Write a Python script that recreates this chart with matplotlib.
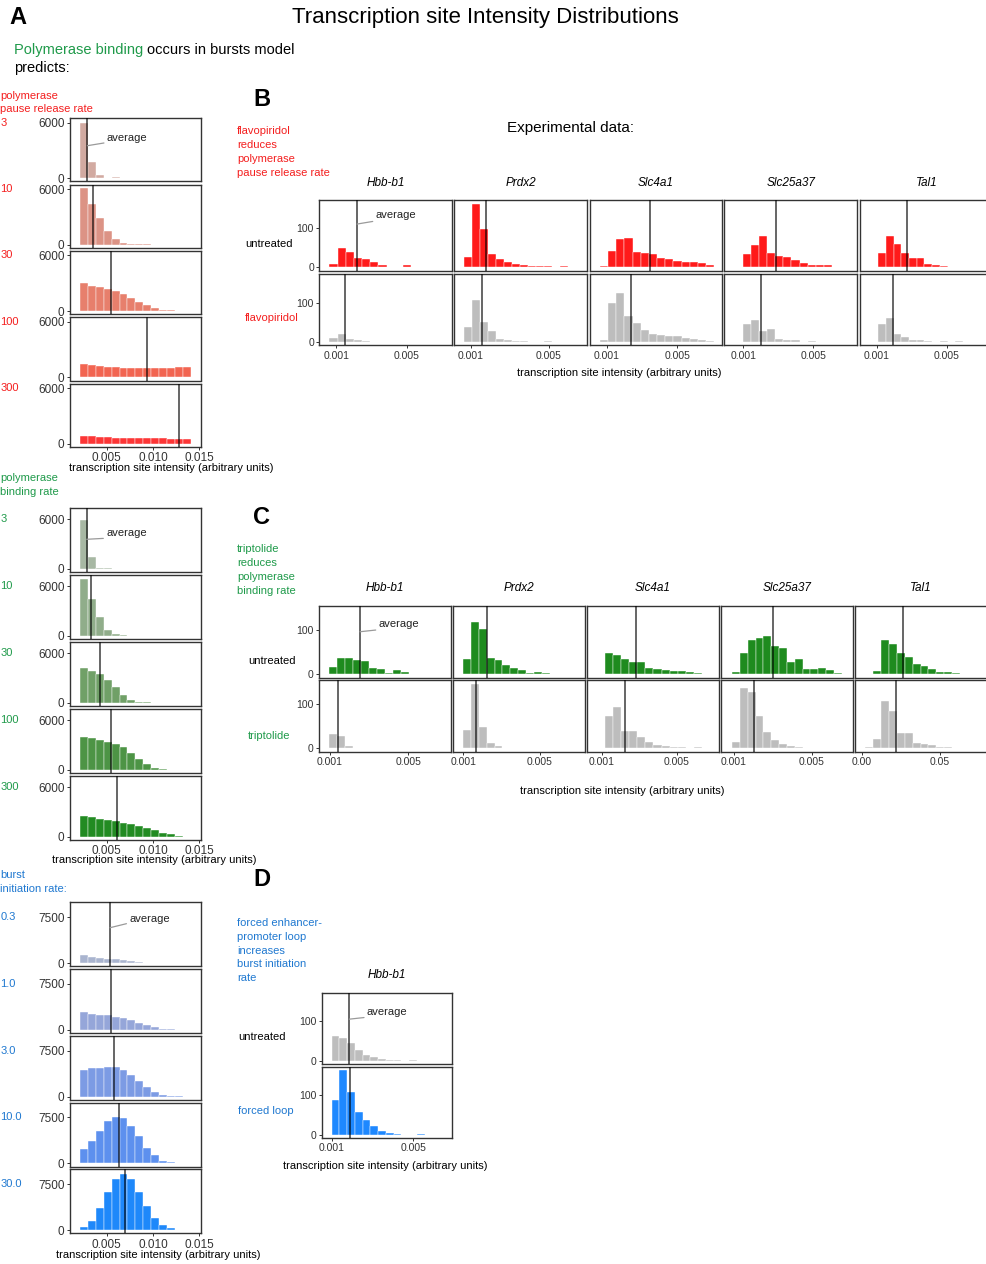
import numpy as np
import matplotlib
matplotlib.use('Agg')
from matplotlib import pyplot as plt
from matplotlib import transforms

plt.rcParams['font.family'] = ['Liberation Sans', 'DejaVu Sans']

# ---- モデル予測 (A) ----
model_bin_start = 0.00212
model_bin_width = 0.000853
model_xticks = [0.005, 0.010, 0.015]
model_xticklabels = ['0.005', '0.010', '0.015']

pause_rates = ['3', '10', '30', '100', '300']
pause_counts = [
    [5950, 1750, 300, 60, 100],
    [6070, 4390, 2860, 1430, 640, 180, 70, 70, 70],
    [3020, 2730, 2545, 2360, 2110, 1820, 1450, 1020, 650, 360, 145, 70, 40, 40],
    [1430, 1320, 1250, 1180, 1140, 1070, 1040, 1040, 1000, 1000, 1000, 1070, 1140, 1120],
    [900, 830, 790, 750, 680, 660, 640, 620, 600, 590, 580, 560, 550, 540],
]
pause_means = [0.00291, 0.00356, 0.00547, 0.00932, 0.01282]

binding_rates = ['3', '10', '30', '100', '300']
binding_counts = [
    [5920, 1410, 160, 60, 20],
    [6900, 4450, 2330, 775, 200, 80, 40],
    [4230, 3900, 3500, 2780, 1890, 1000, 360, 120, 80, 40, 40],
    [4030, 3830, 3590, 3430, 3100, 2780, 2100, 1290, 685, 280, 120, 40, 40, 40],
    [2550, 2350, 2150, 2025, 1940, 1740, 1540, 1340, 1050, 810, 525, 325, 120, 40],
]
binding_means = [0.00284, 0.00331, 0.00431, 0.00547, 0.00608]

burst_rates = ['0.3', '1.0', '3.0', '10.0', '30.0']
burst_counts = [
    [1310, 1040, 875, 765, 656, 490, 380, 220, 110, 110, 55, 55, 55, 30],
    [2920, 2650, 2480, 2380, 2160, 1890, 1570, 1190, 810, 430, 215, 110, 55, 55],
    [4270, 4600, 4600, 4760, 4760, 4320, 3560, 2570, 1590, 765, 330, 110, 55, 30],
    [2330, 3690, 5320, 6840, 7500, 7390, 6140, 4510, 2500, 1360, 435, 160, 55, 30],
    [475, 1530, 3540, 6180, 8400, 9080, 8290, 6180, 3960, 1950, 900, 370, 105, 50],
]
burst_means = [0.00536, 0.00547, 0.00576, 0.0063, 0.00698]

# ---- 実験データ (B, C, D) ----
genes = ['Hbb-b1', 'Prdx2', 'Slc4a1', 'Slc25a37', 'Tal1']

flavo_bin_start = [0.000617, 0.000674, 0.000617, 0.00097, 0.00109]
flavo_bin_width = [0.000463, 0.000407, 0.000463, 0.000463, 0.00044]
flavo_untreated = [
    [9, 50, 39, 22, 20, 14, 5, 1, 0, 4, 1, 1],
    [26, 163, 98, 33, 20, 14, 7, 4, 3, 2, 2, 1, 3],
    [2, 42, 72, 76, 39, 35, 33, 22, 20, 16, 14, 13, 10, 5],
    [33, 57, 80, 35, 29, 26, 17, 11, 4, 4, 4, 1, 1],
    [37, 80, 59, 35, 22, 22, 7, 4, 3, 1, 1, 1, 1],
]
flavo_treated = [
    [9, 20, 7, 3, 1],
    [37, 108, 50, 26, 7, 4, 2, 1, 0, 0, 2],
    [3, 100, 125, 67, 47, 30, 20, 17, 15, 13, 9, 7, 4, 1],
    [46, 56, 27, 31, 7, 4, 3, 0, 1],
    [46, 60, 20, 11, 4, 4, 2, 0, 1, 0, 1],
]
flavo_untreated_mean = [0.00218, 0.00178, 0.00343, 0.00287, 0.00271]
flavo_treated_mean = [0.00147, 0.00156, 0.00239, 0.00199, 0.00191]

trip_bin_start = [0.00096, 0.001, 0.00117, 0.00092, 0.0021]
trip_bin_width = [0.00041, 0.00041, 0.00043, 0.0004, 0.00506]
trip_untreated = [
    [15, 37, 36, 31, 29, 14, 12, 2, 9, 4, 1, 0, 1],
    [33, 117, 102, 37, 31, 21, 14, 9, 2, 4, 2, 0, 1],
    [48, 42, 35, 27, 27, 14, 12, 9, 6, 6, 4, 2],
    [4, 48, 78, 81, 86, 64, 58, 27, 35, 12, 12, 14, 8, 2],
    [0, 6, 77, 68, 48, 38, 23, 19, 12, 4, 5, 2, 1],
]
trip_treated = [
    [32, 28, 4, 0, 1],
    [41, 144, 47, 11, 4],
    [73, 92, 39, 39, 24, 13, 7, 5, 3, 2, 0, 2],
    [14, 136, 127, 72, 36, 17, 9, 5, 2],
    [2, 20, 106, 83, 34, 34, 11, 8, 7, 2, 2, 1, 1],
]
trip_untreated_mean = [0.00253, 0.00225, 0.00281, 0.00301, 0.0263]
trip_treated_mean = [0.00142, 0.00166, 0.00223, 0.00202, 0.0217]

loop_gene = 'Hbb-b1'
loop_bin_start = 0.001
loop_bin_width = 0.00038
loop_untreated = [62, 56, 43, 27, 14, 10, 3, 2, 2, 0, 2]
loop_forced = [87, 161, 107, 58, 37, 21, 8, 4, 2, 0, 0, 2]
loop_untreated_mean = 0.00186
loop_forced_mean = 0.0019

# ---- 色 ----
RED = '#f41e1e'
GREEN = '#1f9a4a'
BLUE = '#1f78d0'
pause_colors = ['#d2aaa1', '#dc9385', '#e77f6c', '#f26551', '#fc3636']
binding_colors = ['#a7b8a3', '#90ad8a', '#70a067', '#4d9445', '#228b22']
burst_colors = ['#a9b4cf', '#95a6d9', '#7c9be4', '#5d90ee', '#1e88fa']
GREY_BAR = '#bdbdbd'

W, H = 987, 1264
fig = plt.figure(figsize=(W / 100, H / 100), dpi=100)


def axpx(l, t, w, h):
    return fig.add_axes([l / W, 1 - (t + h) / H, w / W, h / H])


def txt(x, y, s, **kw):
    kw.setdefault('va', 'center')
    kw.setdefault('fontsize', 8)
    return fig.text(x / W, 1 - y / H, s, **kw)


def draw_hist(ax, start, width, counts, mean, color):
    left = start + width * np.arange(len(counts))
    ax.bar(left, counts, width=width, align='edge', color=color,
           edgecolor='white', linewidth=0.3, zorder=2)
    ax.axvline(mean, color='black', alpha=0.7, lw=1.2, zorder=3)


def frame(ax, xlim, ylim, xticks=None, xlabels=None, yticks=None, size=8):
    ax.set_xlim(xlim)
    ax.set_ylim(ylim)
    for sp in ax.spines.values():
        sp.set_color('#333333')
        sp.set_linewidth(1.0)
    ax.tick_params(length=2.5, width=0.7, color='#333333', labelsize=size,
                   labelcolor='#333333', pad=1.5)
    if xticks is None:
        ax.set_xticks([])
    else:
        ax.set_xticks(xticks)
        ax.set_xticklabels(xlabels)
    if yticks is None:
        ax.set_yticks([])
    else:
        ax.set_yticks(yticks)
        ax.set_yticklabels([str(v) for v in yticks])


def average_label(ax, mean, y0, tx, ty, rel=(0.05, 0.1)):
    ax.annotate('average', xy=(mean, y0), xycoords=ax.get_xaxis_transform(),
                xytext=(tx, ty), textcoords='axes fraction', ha='left',
                va='center', fontsize=8, color='#222222', zorder=4,
                arrowprops=dict(arrowstyle='-', color='#9a9a9a', lw=0.9,
                                shrinkA=0, shrinkB=0, relpos=rel))


# ---- A: モデル ----
model_xlim = (0.00104, 0.01515)


def model_column(top0, step, height, rates, counts, means, colors, ylim,
                 ytick, label_color, ann):
    axes = []
    for i in range(len(rates)):
        ax = axpx(70, top0 + i * step, 130.7, height)
        draw_hist(ax, model_bin_start, model_bin_width, counts[i], means[i],
                  colors[i])
        last = i == len(rates) - 1
        frame(ax, model_xlim, ylim,
              xticks=model_xticks if last else None,
              xlabels=model_xticklabels, yticks=[0, ytick], size=8.5)
        tr = transforms.blended_transform_factory(fig.transFigure, ax.transData)
        fig.text(0.5 / W, ytick, rates[i], transform=tr, color=label_color,
                 fontsize=8, va='center', ha='left')
        axes.append(ax)
    average_label(axes[0], means[0], *ann)
    return axes


model_column(118.3, 66.4, 63, pause_rates, pause_counts, pause_means,
             pause_colors, (-330, 6470), 6000, RED,
             (0.565, 0.281, 0.683, (0.04, 0.1)))
model_column(508.3, 67, 63.5, binding_rates, binding_counts, binding_means,
             binding_colors, (-349, 7329), 6000, GREEN,
             (0.512, 0.276, 0.606, (0.2, 0.05)))
model_column(902.3, 66.75, 64, burst_rates, burst_counts, burst_means,
             burst_colors, (-500, 9900), 7500, BLUE,
             (0.603, 0.453, 0.739, (0.0, 0.1)))

xlab = 'transcription site intensity (arbitrary units)'
txt(171, 468, xlab, ha='center')
txt(154, 860, xlab, ha='center')
txt(158, 1255, xlab, ha='center')

txt(0.5, 96, 'polymerase', color=RED)
txt(0.5, 109, 'pause release rate', color=RED)
txt(0.5, 478, 'polymerase', color=GREEN)
txt(0.5, 492, 'binding rate', color=GREEN)
txt(0.5, 875, 'burst', color=BLUE)
txt(0.5, 889, 'initiation rate:', color=BLUE)

# ---- タイトル ----
txt(9, 18, 'A', fontsize=17, fontweight='bold')
txt(485, 18, 'Transcription site Intensity Distributions', fontsize=16,
    ha='center')
txt(14, 50, 'Polymerase binding', fontsize=10.5, color=GREEN)
txt(147, 50, 'occurs in bursts model', fontsize=10.5)
txt(14, 68, 'predicts:', fontsize=10.5)


# ---- B / C: 実験データ ----
def experiment_grid(lefts, width, tops, height, bstart, bwidth, untreated,
                    treated, umean, tmean, treat_color, xlims, xticks_list,
                    xticklabels_list, ylim, gene_y):
    for j, gene in enumerate(genes):
        for r, (counts, means, color) in enumerate(
                [(untreated, umean, treat_color), (treated, tmean, GREY_BAR)]):
            ax = axpx(lefts[j], tops[r], width, height)
            draw_hist(ax, bstart[j], bwidth[j], counts[j], means[j], color)
            frame(ax, xlims[j], ylim,
                  xticks=xticks_list[j] if r == 1 else None,
                  xlabels=xticklabels_list[j],
                  yticks=[0, 100] if j == 0 else None, size=7.5)
            if j == 0 and r == 0:
                first = ax
        txt(lefts[j] + width / 2, gene_y, gene, ha='center', style='italic',
            fontsize=8.5)
    return first


txt(253, 100, 'B', fontsize=17, fontweight='bold')
for k, line in enumerate(['flavopiridol', 'reduces', 'polymerase',
                          'pause release rate']):
    txt(237, 131 + 14 * k, line, color=RED)
txt(571, 128, 'Experimental data:', fontsize=11, ha='center')

ax_b = experiment_grid(
    [319.5, 454.5, 589.5, 724.3, 860], 133, [199.5, 274], 71,
    flavo_bin_start, flavo_bin_width, flavo_untreated, flavo_treated,
    flavo_untreated_mean, flavo_treated_mean, '#ff1a1a',
    [(0.00005, 0.0076), (0.000165, 0.00698), (0.00002, 0.00757),
     (-0.00009, 0.00751), (0.00005, 0.00765)],
    [[0.001, 0.005]] * 5, [['0.001', '0.005']] * 5, (-9, 174), 183)
average_label(ax_b, flavo_untreated_mean[0], 0.654, 0.421, 0.78, (0.2, 0.05))
txt(245, 244, 'untreated')
txt(245, 318, 'flavopiridol', color=RED)
txt(619, 373, xlab, ha='center')

txt(253, 517, 'C', fontsize=17, fontweight='bold')
for k, line in enumerate(['triptolide', 'reduces', 'polymerase',
                          'binding rate']):
    txt(237, 549 + 14 * k, line, color=GREEN)

ax_c = experiment_grid(
    [319.3, 453.3, 587.3, 721.3, 855.3], 131.5, [606, 680], 71.5,
    trip_bin_start, trip_bin_width, trip_untreated, trip_treated,
    trip_untreated_mean, trip_treated_mean, '#1e8b1e',
    [(0.000454, 0.00717), (0.00048, 0.00735), (0.00024, 0.00722),
     (0.00037, 0.00709), (-0.00424, 0.0799)],
    [[0.001, 0.005]] * 4 + [[0.0, 0.05]],
    [['0.001', '0.005']] * 4 + [['0.00', '0.05']], (-8, 154), 588)
average_label(ax_c, trip_untreated_mean[0], 0.64, 0.45, 0.743, (0.2, 0.05))
txt(248, 661, 'untreated')
txt(248, 736, 'triptolide', color=GREEN)
txt(622, 791, xlab, ha='center')

# ---- D: 強制ループ ----
txt(253, 880, 'D', fontsize=17, fontweight='bold')
for k, line in enumerate(['forced enhancer-', 'promoter loop', 'increases',
                          'burst initiation', 'rate']):
    txt(237, 923 + 13.8 * k, line, color=BLUE)

d_xlim = (0.00051, 0.00688)
ax_d1 = axpx(321.7, 993.3, 130, 70.5)
draw_hist(ax_d1, loop_bin_start, loop_bin_width, loop_untreated,
          loop_untreated_mean, GREY_BAR)
frame(ax_d1, d_xlim, (-8, 169), yticks=[0, 100], size=7.5)
average_label(ax_d1, loop_untreated_mean, 0.633, 0.347, 0.737, (0.2, 0.05))

ax_d2 = axpx(321.7, 1067.3, 130, 70.5)
draw_hist(ax_d2, loop_bin_start, loop_bin_width, loop_forced,
          loop_forced_mean, '#1e88ff')
frame(ax_d2, d_xlim, (-8, 169), xticks=[0.001, 0.005],
      xlabels=['0.001', '0.005'], yticks=[0, 100], size=7.5)

txt(386.7, 975, loop_gene, ha='center', style='italic', fontsize=8.5)
txt(238, 1037, 'untreated')
txt(238, 1111, 'forced loop', color=BLUE)
txt(385, 1166, xlab, ha='center')

fig.savefig('out.png', dpi=100)
